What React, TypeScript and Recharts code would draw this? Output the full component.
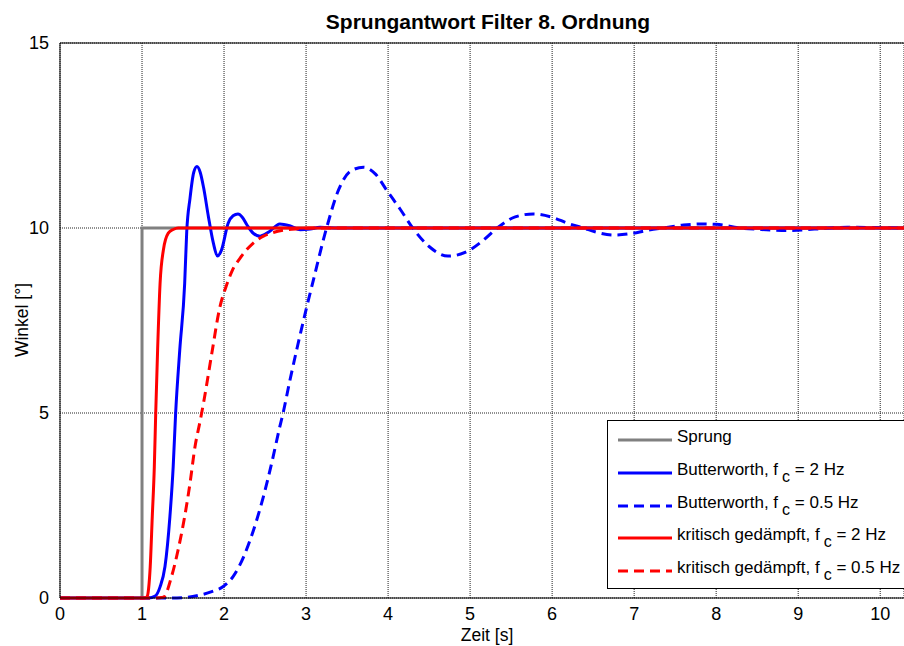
import { LineChart, Line, XAxis, YAxis, CartesianGrid, ReferenceLine, Legend } from 'recharts';

const sprungT = [0, 1, 1, 10.3];
const sprungV = [0, 0, 10, 10];

const bw2T = [0, 1.0, 1.08, 1.16, 1.22, 1.28, 1.34, 1.38, 1.41, 1.46, 1.52, 1.545, 1.585, 1.63, 1.67, 1.71, 1.75, 1.81, 1.87, 1.92, 1.97, 2.05, 2.11, 2.17, 2.22, 2.28, 2.36, 2.44, 2.55, 2.68, 2.8, 2.93, 3.05, 3.17, 3.4, 10.3];
const bw2V = [0, 0, 0, 0.05, 0.3, 0.85, 2.2, 3.55, 5.0, 6.7, 8.5, 9.9, 10.8, 11.5, 11.66, 11.5, 11.1, 10.3, 9.59, 9.24, 9.41, 10.13, 10.33, 10.38, 10.3, 10.08, 9.85, 9.78, 9.9, 10.11, 10.06, 9.95, 9.97, 10.02, 10.0, 10.0];

const bw05T = [0, 1.0, 1.3, 1.5, 1.71, 1.85, 1.99, 2.11, 2.24, 2.36, 2.48, 2.58, 2.68, 2.72, 2.8, 2.89, 2.99, 3.09, 3.25, 3.4, 3.55, 3.7, 3.85, 3.98, 4.15, 4.3, 4.5, 4.73, 5.0, 5.15, 5.33, 5.55, 5.77, 6.0, 6.2, 6.38, 6.55, 6.75, 6.99, 7.15, 7.35, 7.6, 7.84, 8.0, 8.29, 8.55, 8.86, 9.2, 9.6, 10.0, 10.3];
const bw05V = [0, 0, 0, 0.01, 0.08, 0.17, 0.31, 0.58, 1.12, 1.84, 2.74, 3.64, 4.63, 5.0, 5.85, 6.75, 7.7, 8.6, 10.0, 11.05, 11.55, 11.64, 11.45, 11.03, 10.5, 10.0, 9.5, 9.24, 9.41, 9.65, 10.0, 10.3, 10.38, 10.29, 10.12, 10.0, 9.88, 9.81, 9.86, 9.93, 10.0, 10.08, 10.11, 10.1, 10.0, 9.96, 9.93, 9.97, 10.02, 10.01, 10.0];

const kg2T = [0, 1.0, 1.03, 1.06, 1.08, 1.1, 1.125, 1.15, 1.167, 1.19, 1.22, 1.26, 1.32, 1.38, 1.44, 1.55, 10.3];
const kg2V = [0, 0, 0, 0.03, 0.25, 0.85, 2.2, 3.55, 5.0, 6.7, 8.5, 9.4, 9.86, 9.96, 10.0, 10.0, 10.0];

const kg05T = [0, 1.0, 1.15, 1.26, 1.36, 1.44, 1.52, 1.585, 1.646, 1.71, 1.76, 1.85, 1.95, 2.03, 2.1, 2.2, 2.36, 2.48, 2.6, 2.75, 2.9, 3.1, 10.3];
const kg05V = [0, 0, 0, 0.02, 0.58, 1.3, 2.2, 3.1, 4.09, 4.8, 5.4, 6.6, 7.87, 8.45, 8.85, 9.2, 9.6, 9.78, 9.88, 9.95, 9.98, 10.0, 10.0];

const xTicks = [0, 1, 2, 3, 4, 5, 6, 7, 8, 9, 10];
const yTicks = [0, 5, 10, 15];

const seriesNames = [
  'Sprung',
  'Butterworth, f_c = 2 Hz',
  'Butterworth, f_c = 0.5 Hz',
  'kritisch gedämpft, f_c = 2 Hz',
  'kritisch gedämpft, f_c = 0.5 Hz',
];

const FONT = '"Liberation Sans", Arial, Helvetica, sans-serif';
const DASH = '10 6';

const toPoints = (t: number[], v: number[]) => t.map((x, i) => ({ t: x, v: v[i] }));

const SERIES = [
  { name: seriesNames[0], data: toPoints(sprungT, sprungV), color: '#808080', dashed: false, type: 'linear' },
  { name: seriesNames[1], data: toPoints(bw2T, bw2V), color: '#0000ff', dashed: false, type: 'monotone' },
  { name: seriesNames[2], data: toPoints(bw05T, bw05V), color: '#0000ff', dashed: true, type: 'monotone' },
  { name: seriesNames[3], data: toPoints(kg2T, kg2V), color: '#ff0000', dashed: false, type: 'monotone' },
  { name: seriesNames[4], data: toPoints(kg05T, kg05V), color: '#ff0000', dashed: true, type: 'monotone' },
];

function LegendLabel({ text }: { text: string }) {
  const parts = text.split('_c');
  if (parts.length < 2) return <span>{text}</span>;
  return (
    <span>
      {parts[0]}
      <span style={{ position: 'relative', top: 7, marginLeft: 4, fontSize: 16 }}>c</span>
      {parts[1]}
    </span>
  );
}

function LegendBox() {
  return (
    <div
      style={{
        position: 'relative',
        width: 320,
        height: 167,
        border: '1px solid #000',
        background: '#fff',
        fontFamily: FONT,
        fontSize: 17,
        color: '#000',
      }}
    >
      {SERIES.map((s, i) => (
        <div key={s.name} style={{ position: 'absolute', left: 0, top: 19 + i * 32.75 - 12, height: 24, width: 320 }}>
          <svg width={54} height={6} style={{ position: 'absolute', left: 10, top: 9 }}>
            <line x1={0} y1={3} x2={54} y2={3} stroke={s.color} strokeWidth={3} strokeDasharray={s.dashed ? DASH : undefined} />
          </svg>
          <div style={{ position: 'absolute', left: 69, top: -1, lineHeight: '20px', whiteSpace: 'nowrap' }}>
            <LegendLabel text={s.name} />
          </div>
        </div>
      ))}
    </div>
  );
}

export default function App() {
  return (
    <div
      style={{
        position: 'absolute',
        left: 0,
        top: 0,
        width: 904,
        height: 646,
        overflow: 'hidden',
        background: '#fff',
        fontFamily: FONT,
      }}
    >
      <div
        style={{
          position: 'absolute',
          left: 488,
          top: 10,
          transform: 'translateX(-50%)',
          fontSize: 21,
          fontWeight: 'bold',
          whiteSpace: 'nowrap',
        }}
      >
        Sprungantwort Filter 8. Ordnung
      </div>

      <LineChart width={904} height={646} margin={{ top: 43, right: 0, left: 0, bottom: 0 }}>
        <CartesianGrid stroke="#222" strokeDasharray="1 1" />
        <XAxis
          type="number"
          dataKey="t"
          domain={[0, 10.29]}
          allowDataOverflow
          ticks={xTicks}
          interval={0}
          height={48}
          axisLine={{ stroke: '#000' }}
          tickLine={false}
          tickMargin={3}
          tick={{ fontSize: 18, fill: '#000', fontFamily: FONT }}
        />
        <YAxis
          type="number"
          domain={[0, 15]}
          ticks={yTicks}
          interval={0}
          width={60}
          axisLine={{ stroke: '#000' }}
          tickLine={false}
          tickMargin={5}
          tick={{ fontSize: 18, fill: '#000', fontFamily: FONT }}
        />
        <ReferenceLine y={15} stroke="#000" />
        {SERIES.map((s) => (
          <Line
            key={s.name}
            name={s.name}
            data={s.data}
            dataKey="v"
            type={s.type as 'linear' | 'monotone'}
            stroke={s.color}
            strokeWidth={3}
            strokeDasharray={s.dashed ? DASH : undefined}
            dot={false}
            activeDot={false}
            isAnimationActive={false}
          />
        ))}
        <Legend
          layout="vertical"
          align="center"
          verticalAlign="middle"
          wrapperStyle={{ left: 607, top: 420, width: 322 }}
          content={() => <LegendBox />}
        />
      </LineChart>

      <div
        style={{
          position: 'absolute',
          left: 487,
          top: 625,
          transform: 'translateX(-50%)',
          fontSize: 17.5,
          whiteSpace: 'nowrap',
        }}
      >
        Zeit [s]
      </div>
      <div
        style={{
          position: 'absolute',
          left: 21.5,
          top: 320,
          transform: 'translate(-50%, -50%) rotate(-90deg)',
          fontSize: 17.5,
          whiteSpace: 'nowrap',
        }}
      >
        Winkel [°]
      </div>
    </div>
  );
}
